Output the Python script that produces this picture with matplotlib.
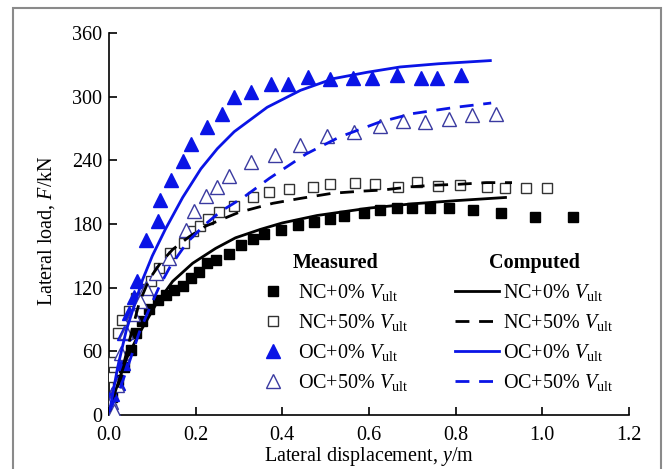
import matplotlib
matplotlib.use("Agg")
import matplotlib.pyplot as plt
from matplotlib.lines import Line2D
from matplotlib.patches import Rectangle

plt.rcParams['font.family'] = ['Liberation Serif', 'DejaVu Serif']
plt.rcParams['mathtext.fontset'] = 'custom'
plt.rcParams['mathtext.rm'] = 'Liberation Serif'
plt.rcParams['mathtext.it'] = 'Liberation Serif:italic'

# --- measured data (markers) ---
nc0_x = [0.006, 0.02, 0.035, 0.05, 0.062, 0.077, 0.093, 0.112, 0.131, 0.15, 0.17, 0.189,
         0.208, 0.227, 0.246, 0.277, 0.304, 0.332, 0.358, 0.396, 0.435, 0.473, 0.511, 0.542,
         0.588, 0.626, 0.665, 0.699, 0.74, 0.784, 0.84, 0.904, 0.983, 1.07]
nc0_y = [17, 33, 45, 61, 77, 89, 100, 108, 113, 118, 122, 129, 135, 143, 146, 152, 160, 166,
         171, 174, 179, 182, 185, 188, 190, 193, 195, 195, 195, 195, 193, 190, 187, 187]

nc50_x = [0.004, 0.005, 0.009, 0.02, 0.03, 0.045, 0.062, 0.081, 0.096, 0.115, 0.14, 0.172,
          0.194, 0.209, 0.229, 0.253, 0.288, 0.332, 0.369, 0.415, 0.47, 0.509, 0.568, 0.613,
          0.667, 0.711, 0.76, 0.809, 0.873, 0.913, 0.962, 1.01]
nc50_y = [6, 36, 50, 77, 90, 98, 110, 119, 126, 139, 153, 162, 173, 178, 185, 191, 197, 205,
          210, 213, 215, 218, 219, 218, 215, 220, 216, 217, 215, 214, 214, 214]

oc0_x = [0.005, 0.008, 0.02, 0.032, 0.035, 0.047, 0.058, 0.064, 0.086, 0.113, 0.117, 0.143,
         0.17, 0.19, 0.225, 0.261, 0.288, 0.327, 0.373, 0.413, 0.46, 0.509, 0.563, 0.607,
         0.664, 0.72, 0.757, 0.813]
oc0_y = [8, 20, 30, 49, 77, 96, 111, 126, 165, 183, 203, 221, 239, 255, 271, 284, 300, 304,
         312, 312, 319, 317, 318, 318, 320, 318, 318, 320]

oc50_x = [0.004, 0.012, 0.018, 0.028, 0.04, 0.055, 0.071, 0.086, 0.108, 0.139, 0.177, 0.196,
          0.223, 0.25, 0.277, 0.327, 0.384, 0.44, 0.502, 0.565, 0.625, 0.678, 0.73, 0.784,
          0.838, 0.892]
oc50_y = [12, 4, 28, 58, 78, 95, 107, 120, 134, 148, 174, 192, 206, 215, 225, 238, 245, 254,
          263, 267, 272, 277, 276, 279, 283, 284]

# --- computed data (lines) ---
nc0c_x = [0.002, 0.016, 0.039, 0.07, 0.108, 0.147, 0.193, 0.246, 0.292, 0.35, 0.40, 0.48,
          0.6, 0.7, 0.8, 0.915]
nc0c_y = [5, 24, 52, 77, 104, 126, 143, 157, 167, 175, 181, 188, 195, 199, 202, 205]

nc50c_x = [0.002, 0.023, 0.055, 0.07, 0.093, 0.12, 0.147, 0.185, 0.223, 0.27, 0.30, 0.378,
           0.44, 0.516, 0.585, 0.632, 0.694, 0.747, 0.81, 0.871, 0.93]
nc50c_y = [5, 30, 83, 106, 128, 144, 156, 168, 178, 186, 191, 199.5, 204, 209, 211, 212, 215,
           216.5, 217.5, 219, 219]

oc0c_x = [0.002, 0.02, 0.04, 0.077, 0.1, 0.13, 0.17, 0.212, 0.25, 0.289, 0.365, 0.442, 0.518,
          0.596, 0.672, 0.76, 0.88]
oc0c_y = [5, 45, 80, 127, 150, 175, 205, 232, 251, 267, 290, 306, 317, 323, 328, 331, 334]

oc50c_x = [0.002, 0.024, 0.047, 0.07, 0.093, 0.116, 0.14, 0.162, 0.181, 0.223, 0.258, 0.31,
           0.37, 0.455, 0.532, 0.624, 0.7, 0.8, 0.882]
oc50c_y = [5, 23, 50, 78, 100, 121, 139, 152, 163, 180, 192, 205, 223, 246, 262, 276, 284,
           290, 294]

labels = [r'NC+0% $V_{\mathrm{ult}}$', r'NC+50% $V_{\mathrm{ult}}$',
          r'OC+0% $V_{\mathrm{ult}}$', r'OC+50% $V_{\mathrm{ult}}$']

BLUE = '#0a14e6'
NAVY = '#3a3aa0'
dash = (0, (5, 3.5))
FS = 14.5

fig = plt.figure(figsize=(6.65, 4.69), dpi=100)
ax = fig.add_axes([109 / 665, 1 - 415 / 469, (629 - 109) / 665, (415 - 33) / 469])

# measured
ax.plot(nc0_x, nc0_y, 's', color='black', ms=7.5, ls='none', zorder=3)
ax.plot(nc50_x, nc50_y, 's', mfc='white', mec='#333333', mew=1.0, ms=7.5, ls='none', zorder=3)
ax.plot(oc0_x, oc0_y, '^', color=BLUE, ms=9.5, ls='none', zorder=3)
ax.plot(oc50_x, oc50_y, '^', mfc='white', mec=NAVY, mew=1.0, ms=9.5, ls='none', zorder=3)

# computed
ax.plot(nc0c_x, nc0c_y, '-', color='black', lw=2, zorder=4)
ax.plot(nc50c_x, nc50c_y, color='black', lw=2, ls=dash, zorder=4)
ax.plot(oc0c_x, oc0c_y, '-', color=BLUE, lw=2, zorder=4)
ax.plot(oc50c_x, oc50c_y, color=BLUE, lw=2, ls=dash, zorder=4)

ax.set_xlim(0, 1.2)
ax.set_ylim(0, 360)
ax.set_xticks([0.0, 0.2, 0.4, 0.6, 0.8, 1.0, 1.2])
ax.set_xticklabels(['0.0', '0.2', '0.4', '0.6', '0.8', '1.0', '1.2'])
ax.set_yticks(range(0, 361, 60))
ax.spines['top'].set_visible(False)
ax.spines['right'].set_visible(False)
for s in ('left', 'bottom'):
    ax.spines[s].set_linewidth(1.2)
ax.tick_params(axis='x', direction='in', length=6, width=1.2, labelsize=FS, pad=8)
ax.tick_params(axis='y', direction='in', length=6, width=1.2, labelsize=FS, pad=5)
ax.set_xlabel(r'Lateral displacement, $y$/m', fontsize=FS, labelpad=0)
ax.set_ylabel(r'Lateral load, $F$/kN', fontsize=FS)
ax.yaxis.set_label_coords(-0.1, 0.482)

# legends
meas_handles = [
    Line2D([], [], marker='s', color='black', ms=7.5, ls='none'),
    Line2D([], [], marker='s', mfc='white', mec='#333333', mew=1.0, ms=7.5, ls='none'),
    Line2D([], [], marker='^', color=BLUE, ms=9.5, ls='none'),
    Line2D([], [], marker='^', mfc='white', mec=NAVY, mew=1.0, ms=9.5, ls='none'),
]
comp_handles = [
    Line2D([], [], color='black', lw=2),
    Line2D([], [], color='black', lw=2, ls=dash),
    Line2D([], [], color=BLUE, lw=2),
    Line2D([], [], color=BLUE, lw=2, ls=dash),
]
leg1 = ax.legend(meas_handles, labels, title='Measured', loc='upper left',
                 bbox_to_anchor=(263 / 665, 1 - 253 / 469), bbox_transform=fig.transFigure,
                 frameon=False, fontsize=FS, handlelength=1.0, handletextpad=0.75,
                 labelspacing=0.45, borderpad=0, borderaxespad=0,
                 title_fontproperties={'weight': 'bold', 'size': FS})
ax.add_artist(leg1)
leg2 = ax.legend(comp_handles, labels, title='Computed', loc='upper left',
                 bbox_to_anchor=(455 / 665, 1 - 253 / 469), bbox_transform=fig.transFigure,
                 frameon=False, fontsize=FS, handlelength=2.2, handletextpad=0.2,
                 labelspacing=0.45, borderpad=0, borderaxespad=0,
                 title_fontproperties={'weight': 'bold', 'size': FS})

# grey outer frame
fig.patches.append(Rectangle((13 / 665, -0.05), (661 - 13) / 665, 1.05 - 8 / 469,
                             transform=fig.transFigure, fill=False,
                             edgecolor='#8a8a8a', lw=1.5))

fig.savefig('out.png', dpi=100)
